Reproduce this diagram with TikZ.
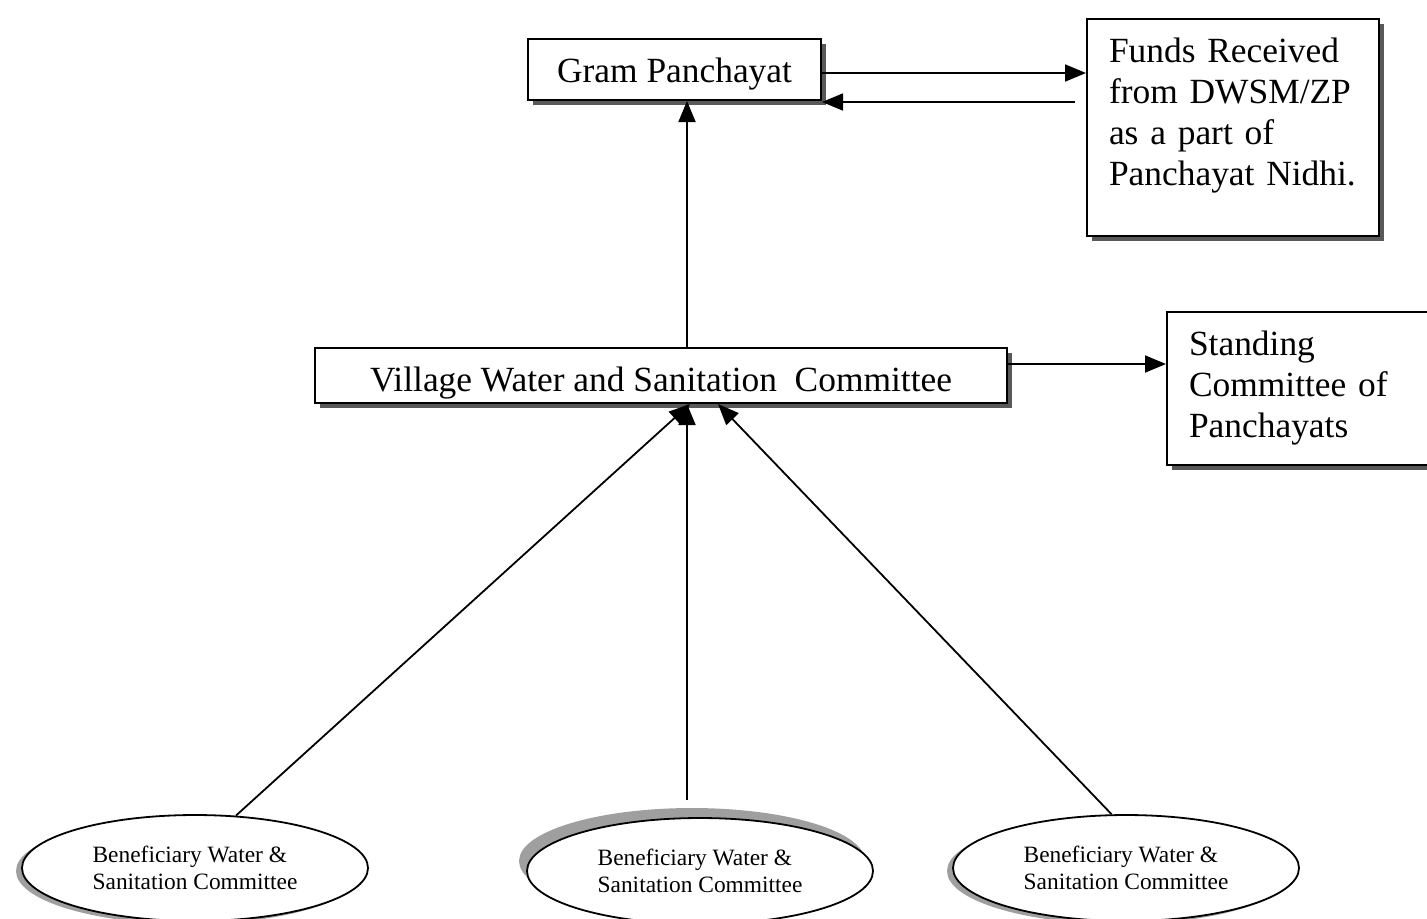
\documentclass[tikz,border=0pt]{standalone}
\usepackage{fontspec}
\setmainfont{Liberation Serif}
\usetikzlibrary{arrows.meta,positioning,shapes.geometric,shadows,calc}

\begin{document}
\begin{tikzpicture}[x=0.5pt,y=-0.5pt,
      every node/.style={font=\fontsize{17.7}{20.5}\selectfont},
      box/.style={draw,line width=1pt,fill=white,inner sep=0pt,
                  drop shadow={shadow xshift=2.5pt,shadow yshift=-2.5pt,
                               fill=black!65,opacity=1}},
      txtbox/.style={box,align=left,inner xsep=11pt,inner ysep=9.7pt},
      ben/.style={ellipse,draw,line width=0.9pt,fill=white,inner sep=0pt,
                  align=left,minimum width=173pt,minimum height=53pt,
                  font=\fontsize{11.7}{13.5}\selectfont},
      lowshadow/.style={drop shadow={shadow xshift=-3pt,shadow yshift=-1.5pt,
                                     fill=gray!75,opacity=1}},
      topshadow/.style={drop shadow={shadow xshift=-4pt,shadow yshift=5pt,
                                     fill=gray!75,opacity=1}},
      arr/.style={line width=0.9pt,-{Triangle[length=10.5pt,width=8.5pt]}}]
    \useasboundingbox (0,0) rectangle (1427,918);
    % boxes
    \node[box,minimum width=146.5pt,minimum height=30.5pt,text height=12.6pt,text depth=0pt]
         (gp) at (674.5,69.5) {Gram Panchayat};
    \node[txtbox,anchor=north west,text width=124pt,text height=12pt,text depth=77.1pt]
         (funds) at (1086,18) {Funds Received\\from DWSM/ZP\\as a part of\\Panchayat Nidhi.};
    \node[box,minimum width=346pt,minimum height=27.5pt,text height=15.6pt,text depth=0pt]
         (vwsc) at (661,375.5) {Village Water and Sanitation\ \ Committee};
    \node[txtbox,anchor=north west,text width=115pt,minimum height=76pt]
         (stand) at (1166,311) {Standing\\Committee of\\Panchayats};
    % beneficiary committees
    \node[ben,lowshadow] (ben1) at (195,868)  {Beneficiary Water \&\\Sanitation Committee};
    \node[ben,topshadow] (ben2) at (700,871)  {Beneficiary Water \&\\Sanitation Committee};
    \node[ben,lowshadow] (ben3) at (1126,868) {Beneficiary Water \&\\Sanitation Committee};
    % connectors
    \draw[arr] (gp.east |- 0,73) -- (funds.west |- 0,73);
    \draw[arr] ($(funds.west |- 0,102)+(-11,0)$) -- (gp.east |- 0,102);
    \draw[arr] (vwsc.north -| 687,0) -- (gp.south -| 687,0);
    \draw[arr] (vwsc.east |- 0,364) -- (stand.west |- 0,364);
    \draw[arr] (ben1.52) -- (vwsc.south -| 690,0);
    \draw[arr] ($(ben2.north)+(-13,-17)$) -- (vwsc.south -| 687,0);
    \draw[arr] (ben3.105) -- (vwsc.south -| 718,0);
\end{tikzpicture}
\end{document}
